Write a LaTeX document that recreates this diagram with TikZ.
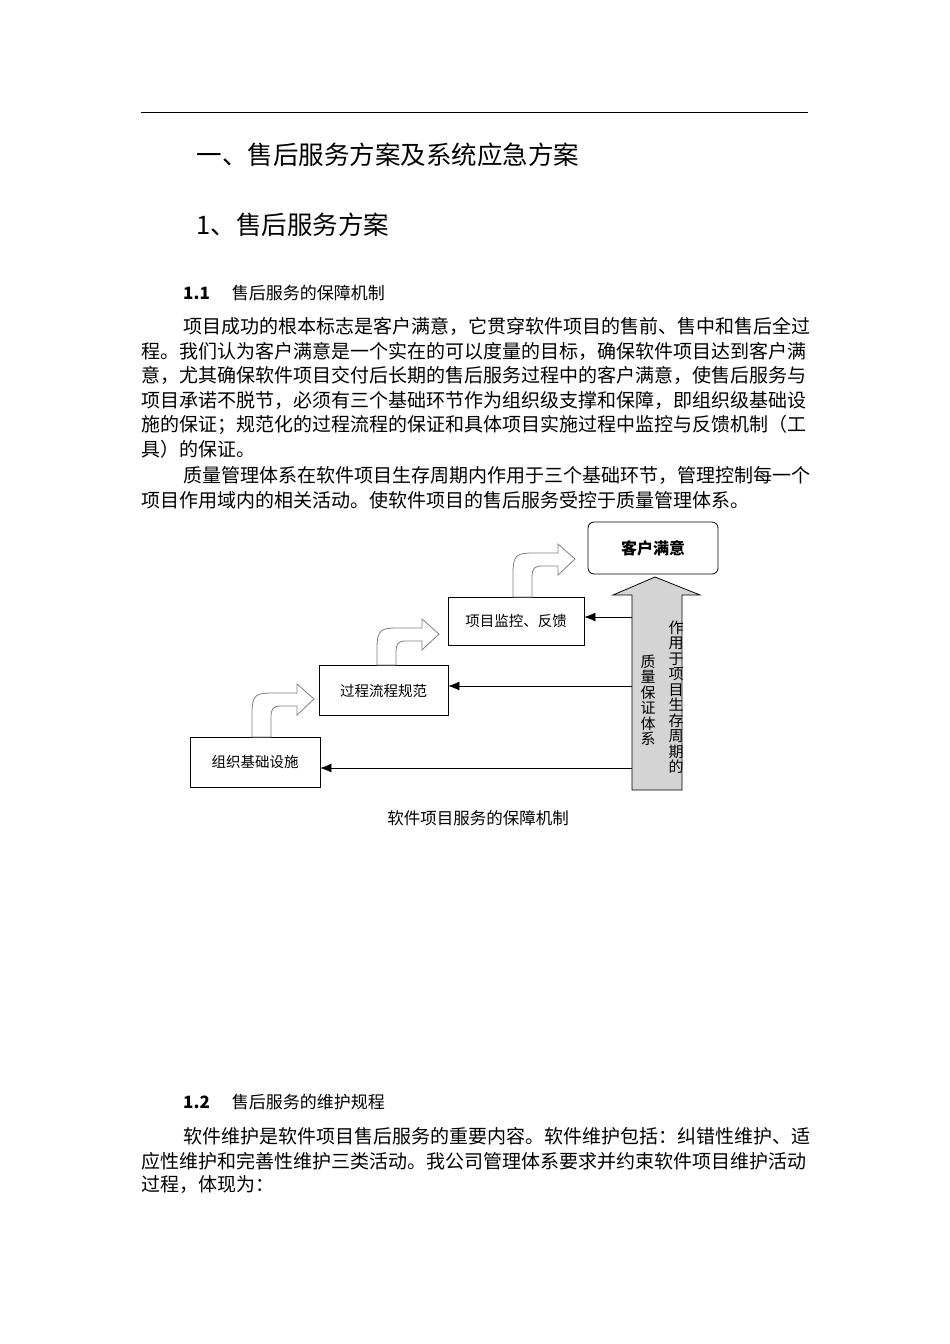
\documentclass[tikz,border=0pt]{standalone}
\usepackage{fontspec}
\usetikzlibrary{arrows.meta}
\setmainfont{Noto Sans CJK SC}
\begin{document}
\begin{tikzpicture}[x=1pt,y=-1pt,
  box/.style={draw,line width=0.8pt,minimum width=#1,minimum height=50pt,font=\fontsize{14.5}{14.5}\selectfont},
  body/.style={anchor=west,inner sep=0pt,font=\fontsize{19}{19}\selectfont},
  conn/.style={line width=0.6pt,-{Latex[length=11pt,width=9pt]}}]
\useasboundingbox (0,0) rectangle (950,1344);
\draw[line width=0.8pt] (141,112) -- (808,112);
\node[anchor=west,font=\fontsize{25.5}{25.5}\selectfont] (h1) at (193,155) {一、售后服务方案及系统应急方案};
\node[anchor=west,font=\fontsize{25.5}{25.5}\selectfont] (h2) at (193,225) {1、售后服务方案};
\node[body,font=\fontsize{17}{17}\selectfont] (s11) at (183,293) {\textbf{1.1}\hspace{22pt}售后服务的保障机制};
\node[body] at (183,326) {项目成功的根本标志是客户满意，它贯穿软件项目的售前、售中和售后全过};
\node[body] at (141,351) {程。我们认为客户满意是一个实在的可以度量的目标，确保软件项目达到客户满};
\node[body] at (141,375) {意，尤其确保软件项目交付后长期的售后服务过程中的客户满意，使售后服务与};
\node[body] at (141,400) {项目承诺不脱节，必须有三个基础环节作为组织级支撑和保障，即组织级基础设};
\node[body] at (141,425) {施的保证；规范化的过程流程的保证和具体项目实施过程中监控与反馈机制（工};
\node[body] at (141,449) {具）的保证。};
\node[body] at (183,475) {质量管理体系在软件项目生存周期内作用于三个基础环节，管理控制每一个};
\node[body] at (141,500) {项目作用域内的相关活动。使软件项目的售后服务受控于质量管理体系。};
% diagram
\node[box=130pt] (b1) at (255,762) {组织基础设施};
\node[box=129pt] (b2) at (383.5,690.5) {过程流程规范};
\node[box=136pt,minimum height=48pt] (b3) at (516,621) {项目监控、反馈};
\node[draw,line width=0.8pt,rounded corners=6pt,minimum width=130pt,minimum height=52pt,font=\bfseries\fontsize{16}{16}\selectfont] (b4) at (653,548) {客户满意};
% hollow curved arrows
\newcommand\carrow[3]{\draw[gray,line width=0.8pt,fill=white,shift={(#1,#2)}]
  (0,#3) -- (0,20) .. controls (0,2) and (4,0) .. (20,0) -- (45,0) -- (45,-9) -- (62,6) -- (45,22) -- (45,13) -- (30,13) .. controls (21,13) and (19,15) .. (19,25) -- (19,#3) -- cycle;}
\carrow{252}{693}{44}
\carrow{377}{628}{37}
\carrow{513}{553}{44}
% big arrow
\draw[fill=black!17,line width=0.8pt] (632,790) -- (632,595) -- (613,595) -- (655,577) -- (700,595) -- (682,595) -- (682,790) -- cycle;
\coordinate (p3) at (632,617);
\coordinate (p2) at (632,686);
\coordinate (p1) at (632,768);
\draw[conn] (p3) -- (b3.east|-p3);
\draw[conn] (p2) -- (b2.east|-p2);
\draw[conn] (p1) -- (b1.east|-p1);
\node[align=center,inner sep=0pt,font=\fontsize{15}{15.5}\selectfont] (q) at (648,700) {质\\量\\保\\证\\体\\系};
\node[align=center,inner sep=0pt,font=\fontsize{15}{15.5}\selectfont] (r) at (676,697) {作\\用\\于\\项\\目\\生\\存\\周\\期\\的};
\node[font=\fontsize{16.5}{16.5}\selectfont] (cap) at (478,818) {软件项目服务的保障机制};
\node[body,font=\fontsize{17}{17}\selectfont] (s12) at (183,1102) {\textbf{1.2}\hspace{22pt}售后服务的维护规程};
\node[body] at (183,1136) {软件维护是软件项目售后服务的重要内容。软件维护包括：纠错性维护、适};
\node[body] at (141,1161) {应性维护和完善性维护三类活动。我公司管理体系要求并约束软件项目维护活动};
\node[body] at (141,1185) {过程，体现为：};
\end{tikzpicture}
\end{document}
